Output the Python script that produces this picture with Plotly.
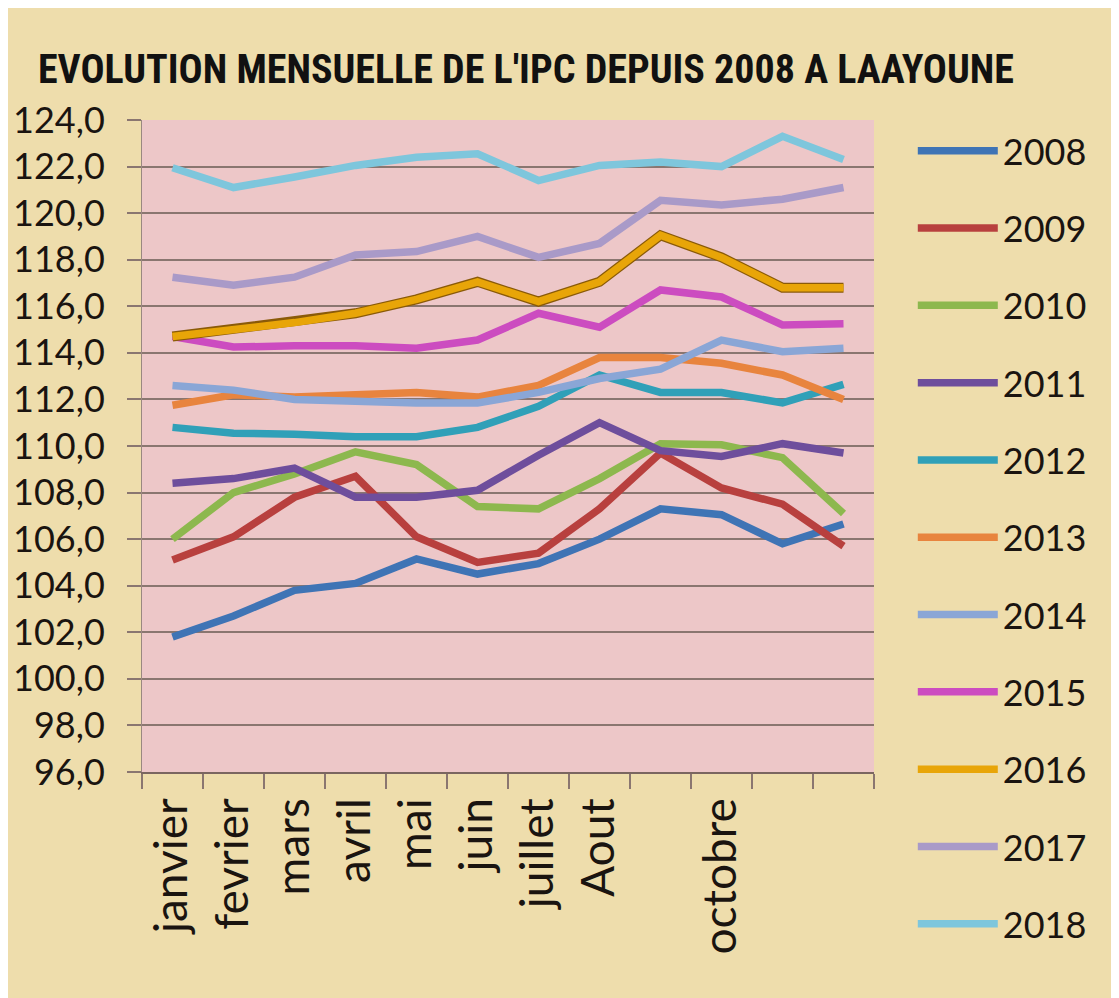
import plotly.graph_objects as go

# Mois (catégories) et libellés affichés sur l'axe
months = ["janvier", "fevrier", "mars", "avril", "mai", "juin", "juillet",
          "Aout", "septembre", "octobre", "novembre", "decembre"]
tick_labels = ["janvier", "fevrier", "mars", "avril", "mai", "juin", "juillet",
               "Aout", "", "octobre", "", ""]

# IPC mensuel par année
ipc_2008 = [101.8, 102.7, 103.8, 104.1, 105.15, 104.5, 104.95, 106.0, 107.3, 107.05, 105.8, 106.65]
ipc_2009 = [105.1, 106.1, 107.8, 108.7, 106.1, 105.0, 105.4, 107.3, 109.7, 108.2, 107.5, 105.7]
ipc_2010 = [106.0, 108.0, 108.8, 109.75, 109.2, 107.4, 107.3, 108.6, 110.1, 110.05, 109.5, 107.1]
ipc_2011 = [108.4, 108.6, 109.05, 107.8, 107.8, 108.1, 109.6, 111.0, 109.8, 109.55, 110.1, 109.7]
ipc_2012 = [110.8, 110.55, 110.5, 110.4, 110.4, 110.8, 111.7, 113.05, 112.3, 112.3, 111.85, 112.65]
ipc_2013 = [111.75, 112.2, 112.1, 112.2, 112.3, 112.1, 112.6, 113.8, 113.8, 113.55, 113.05, 112.0]
ipc_2014 = [112.6, 112.4, 112.0, 111.9, 111.85, 111.85, 112.3, 112.9, 113.3, 114.55, 114.05, 114.2]
ipc_2015 = [114.7, 114.25, 114.3, 114.3, 114.2, 114.55, 115.7, 115.1, 116.7, 116.4, 115.2, 115.25]
ipc_2016 = [114.7, 115.0, 115.3, 115.7, 116.3, 117.05, 116.2, 117.05, 119.05, 118.1, 116.8, 116.8]
ipc_2017 = [117.25, 116.9, 117.25, 118.2, 118.35, 119.0, 118.1, 118.7, 120.55, 120.35, 120.6, 121.1]
ipc_2018 = [121.95, 121.1, 121.55, 122.05, 122.4, 122.55, 121.4, 122.05, 122.2, 122.0, 123.3, 122.3]

series = [
    ("2008", ipc_2008, "#3F74B5"),
    ("2009", ipc_2009, "#B8403E"),
    ("2010", ipc_2010, "#8DB84E"),
    ("2011", ipc_2011, "#6E4E9C"),
    ("2012", ipc_2012, "#30A0B8"),
    ("2013", ipc_2013, "#E8843E"),
    ("2014", ipc_2014, "#8AA6D6"),
    ("2015", ipc_2015, "#CC4CC0"),
    ("2016", ipc_2016, "#E8A508"),
    ("2017", ipc_2017, "#A99AC8"),
    ("2018", ipc_2018, "#7EC6DC"),
]

font = "Lato, 'Open Sans', sans-serif"

fig = go.Figure()
for i, (name, vals, color) in enumerate(series):
    if name == "2016":
        # effet de relief : trait sombre sous le trait doré
        fig.add_trace(go.Scatter(x=months, y=vals, mode="lines", name=name,
                                 legendgroup=name, showlegend=False,
                                 line=dict(color="#8A5A08", width=10)))
    fig.add_trace(go.Scatter(x=months, y=vals, mode="lines", name=name,
                             legendgroup=name, legendrank=i + 1,
                             line=dict(color=color, width=7.5)))

# la page ajoute 8 px de marge autour de la figure
fig.update_layout(
    width=1111, height=990,
    paper_bgcolor="#EEDDAC",
    plot_bgcolor="#EDC7C8",
    separators=", ",
    margin=dict(l=134, r=245, t=112, b=226, autoexpand=False),
    font=dict(family=font, color="#1A1410", size=34),
    title=dict(text="<b>EVOLUTION MENSUELLE DE L'IPC DEPUIS 2008 A LAAYOUNE</b>",
               x=0.027, xanchor="left", y=0.938, yanchor="middle",
               font=dict(family="'Roboto Condensed', Roboto, sans-serif",
                         size=40, color="#111")),
    legend=dict(x=1.053, xanchor="left", y=0.886, yanchor="top", yref="container",
                bgcolor="rgba(0,0,0,0)", font=dict(size=36),
                tracegroupgap=27.5, itemwidth=80, maxheight=900),
    showlegend=True,
)

fig.update_xaxes(
    type="category", categoryorder="array", categoryarray=months,
    range=[-0.5, len(months) - 0.5],
    tickmode="array", tickvals=months, ticktext=tick_labels,
    tickangle=-90, tickson="boundaries", ticks="outside", ticklen=15,
    tickcolor="#8A7670", tickwidth=1.5,
    showline=True, linecolor="#7A6660", linewidth=1.5,
    showgrid=False, tickfont=dict(size=46), ticklabelstandoff=6,
)
fig.update_yaxes(
    range=[96, 124], dtick=2, tickformat=".1f",
    showgrid=True, gridcolor="#8A7670", gridwidth=1.5,
    ticks="outside", ticklen=14, tickcolor="#8A7670", tickwidth=1.5,
    showline=True, linecolor="#9A8880", linewidth=1,
    zeroline=False, tickfont=dict(size=36), ticklabelstandoff=15,
)

fig.write_html("out.html")
